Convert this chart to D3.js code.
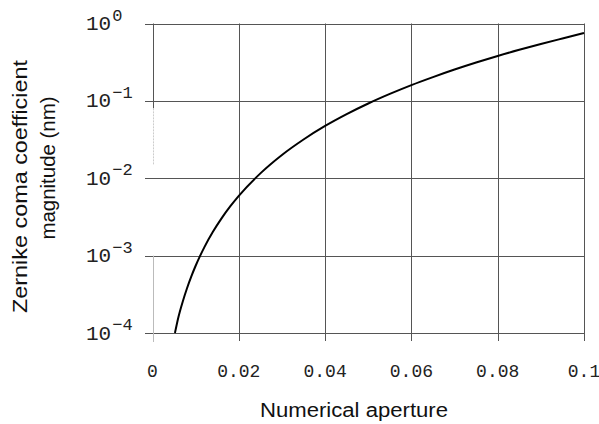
<!DOCTYPE html>
<html>
<head>
<meta charset="utf-8">
<script src="https://cdn.jsdelivr.net/npm/d3@7"></script>
<style>
  body { margin: 0; background: #fff; }
  svg { display: block; }
</style>
</head>
<body>
<script>
// values
var na = [0.0052, 0.006, 0.007, 0.008, 0.009, 0.010, 0.011, 0.012, 0.014, 0.016, 0.018, 0.020,
          0.025, 0.030, 0.035, 0.040, 0.045, 0.050, 0.055, 0.060, 0.065, 0.070,
          0.075, 0.080, 0.085, 0.090, 0.095, 0.100];
var coma = [1.0e-4, 1.6e-4, 2.54e-4, 3.79e-4, 5.39e-4, 7.4e-4, 9.85e-4, 1.28e-3, 2.03e-3, 3.03e-3, 4.32e-3, 5.92e-3,
            0.01156, 0.0200, 0.0317, 0.0474, 0.0674, 0.0925, 0.123, 0.160, 0.203, 0.254,
            0.313, 0.381, 0.457, 0.543, 0.640, 0.752];
var xTicks = [0, 0.02, 0.04, 0.06, 0.08, 0.1];
var xTickLabels = ["0", "0.02", "0.04", "0.06", "0.08", "0.1"];
var yExps = [0, -1, -2, -3, -4];

var width = 599, height = 424;
var plotLeft = 145, plotRight = 584, plotTop = 23.5, plotBottom = 333;

var svg = d3.select("body").append("svg")
    .attr("width", width)
    .attr("height", height);

var x = d3.scaleLinear().domain([0, 0.1]).range([152.5, 584]);
var y = d3.scaleLog().domain([1e-4, 1]).range([plotBottom, plotTop]);

function px(v) { return Math.round(v) + 0.5; }

// horizontal grid
svg.append("g")
  .selectAll("line")
  .data(yExps)
  .enter().append("line")
    .attr("x1", plotLeft)
    .attr("x2", plotRight + 1)
    .attr("y1", function(d) { return px(y(Math.pow(10, d))); })
    .attr("y2", function(d) { return px(y(Math.pow(10, d))); })
    .attr("stroke", "#555")
    .attr("stroke-width", 1);

// vertical grid (x = 0 is left out, drawn below)
svg.append("g")
  .selectAll("line")
  .data(xTicks.slice(1))
  .enter().append("line")
    .attr("x1", function(d) { return px(x(d)); })
    .attr("x2", function(d) { return px(x(d)); })
    .attr("y1", plotTop)
    .attr("y2", plotBottom + 8)
    .attr("stroke", "#555")
    .attr("stroke-width", 1);

// x = 0 line: solid at the top, faded lower down
var x0 = px(x(0));
svg.append("line")
    .attr("x1", x0).attr("x2", x0)
    .attr("y1", plotTop).attr("y2", y(0.08))
    .attr("stroke", "#555");
svg.append("line")
    .attr("x1", x0).attr("x2", x0)
    .attr("y1", y(0.08)).attr("y2", y(0.015))
    .attr("stroke", "#ccc")
    .attr("stroke-dasharray", "2,1");
svg.append("line")
    .attr("x1", x0).attr("x2", x0)
    .attr("y1", y(1e-3)).attr("y2", plotBottom + 9)
    .attr("stroke", "#bbb");

// x tick labels
svg.append("g")
  .selectAll("text")
  .data(xTicks)
  .enter().append("text")
    .attr("x", function(d) { return x(d); })
    .attr("y", 377)
    .attr("text-anchor", "middle")
    .attr("font-family", "Liberation Mono, Courier New, monospace")
    .attr("font-size", 18)
    .attr("fill", "#222")
    .text(function(d, i) { return xTickLabels[i]; });

// y tick labels 10^n
var yl = svg.append("g")
  .selectAll("text")
  .data(yExps)
  .enter().append("text")
    .attr("x", 86)
    .attr("y", function(d) { return y(Math.pow(10, d)) + 6.5; })
    .attr("font-family", "Liberation Mono, Courier New, monospace")
    .attr("font-size", 21)
    .attr("fill", "#222");
yl.append("tspan").text("10");
yl.append("tspan")
    .attr("dx", 1)
    .attr("dy", -9.5)
    .attr("font-size", 17)
    .text(function(d) { return d === 0 ? "0" : "\u2212" + (-d); });

// curve
var pts = na.map(function(d, i) { return [d, coma[i]]; });
var line = d3.line()
    .x(function(d) { return x(d[0]); })
    .y(function(d) { return y(d[1]); })
    .curve(d3.curveMonotoneX);

svg.append("path")
    .datum(pts)
    .attr("d", line)
    .attr("fill", "none")
    .attr("stroke", "#000")
    .attr("stroke-width", 2);

// axis titles
svg.append("text")
    .attr("x", 354)
    .attr("y", 417)
    .attr("text-anchor", "middle")
    .attr("font-family", "Liberation Sans, Arial, sans-serif")
    .attr("font-size", 20)
    .attr("textLength", 188)
    .attr("lengthAdjust", "spacingAndGlyphs")
    .attr("fill", "#111")
    .text("Numerical aperture");

svg.append("text")
    .attr("transform", "translate(27,186.5) rotate(-90)")
    .attr("text-anchor", "middle")
    .attr("font-family", "Liberation Sans, Arial, sans-serif")
    .attr("font-size", 21)
    .attr("textLength", 253)
    .attr("lengthAdjust", "spacingAndGlyphs")
    .attr("fill", "#111")
    .text("Zernike coma coefficient");

svg.append("text")
    .attr("transform", "translate(55,168) rotate(-90)")
    .attr("text-anchor", "middle")
    .attr("font-family", "Liberation Sans, Arial, sans-serif")
    .attr("font-size", 21)
    .attr("textLength", 143)
    .attr("lengthAdjust", "spacingAndGlyphs")
    .attr("fill", "#111")
    .text("magnitude (nm)");
</script>
</body>
</html>
